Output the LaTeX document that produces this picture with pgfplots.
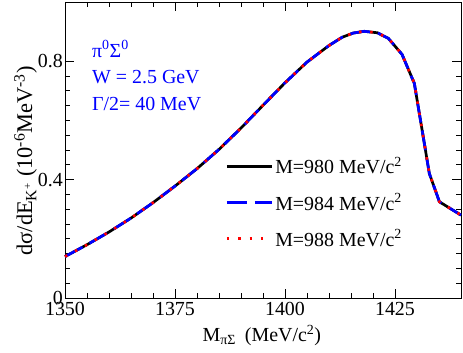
\documentclass[border=0pt]{standalone}
\usepackage{fontspec}
\setmainfont{Liberation Serif}
\usepackage{pgfplots}
\pgfplotsset{compat=1.18}
\begin{document}
\begin{tikzpicture}[font=\fontsize{20}{24}\selectfont]
\begin{axis}[
  scale only axis, width=396bp, height=296bp,
  xmin=1350, xmax=1440, ymin=0, ymax=1,
  xtick={1350,1375,1400,1425}, xticklabels={1350,1375,1400,1425},
  ytick={0,0.4,0.8}, yticklabels={0,0.4,0.8},
  minor x tick num=4, minor y tick num=7,
  tick align=inside, major tick length=9bp, minor tick length=5bp,
  axis line style={line width=0.8bp},
  every tick/.style={black, line width=0.8bp},
  xticklabel style={inner sep=4bp},
  yticklabel style={inner sep=2bp},
  xlabel={M\textsubscript{πΣ}\hspace{0.45em}(MeV/c\textsuperscript{2})},
  ylabel={dσ/dE\textsubscript{K\textsuperscript{+}} (10\textsuperscript{-6}MeV\textsuperscript{-3})},
  xlabel style={at={(axis description cs:0.497,-0.148)}, anchor=base},
  ylabel style={at={(axis description cs:-0.083,0.463)}, anchor=base, font=\fontsize{22.5}{27}\selectfont},
  legend cell align=left,
  legend style={draw=none, fill=none, at={(axis description cs:0.405,0.483)}, anchor=north west, row sep=14bp, inner sep=0pt},
  legend image code/.code={\draw[#1] (0bp,0bp) -- (45bp,0bp);},
  clip=false,
]
\addplot[black, line width=2.7bp] coordinates {
(1350,0.140) (1355,0.180) (1360,0.223) (1365,0.270) (1370,0.322) (1375,0.378)
(1380,0.437) (1385,0.502) (1390,0.574) (1395,0.651) (1400,0.727) (1405,0.797)
(1410,0.853) (1413,0.881) (1415.5,0.895) (1418,0.901) (1421,0.896) (1423.5,0.877)
(1426.6,0.823) (1429.4,0.725) (1432.8,0.421) (1435.1,0.325) (1440,0.280)
};
\addlegendentry{M=980 MeV/c\textsuperscript{2}}
\addplot[blue, line width=2.7bp, dash pattern=on 20bp off 8bp] coordinates {
(1350,0.140) (1355,0.180) (1360,0.223) (1365,0.270) (1370,0.322) (1375,0.378)
(1380,0.437) (1385,0.502) (1390,0.574) (1395,0.651) (1400,0.727) (1405,0.797)
(1410,0.853) (1413,0.881) (1415.5,0.895) (1418,0.901) (1421,0.896) (1423.5,0.877)
(1426.6,0.823) (1429.4,0.725) (1432.8,0.421) (1435.1,0.325) (1440,0.280)
};
\addlegendentry{M=984 MeV/c\textsuperscript{2}}
\addplot[red, line width=2.7bp, dash pattern=on 2.5bp off 8.8bp] coordinates {
(1350,0.140) (1355,0.180) (1360,0.223) (1365,0.270) (1370,0.322) (1375,0.378)
(1380,0.437) (1385,0.502) (1390,0.574) (1395,0.651) (1400,0.727) (1405,0.797)
(1410,0.853) (1413,0.881) (1415.5,0.895) (1418,0.901) (1421,0.896) (1423.5,0.877)
(1426.6,0.823) (1429.4,0.725) (1432.8,0.421) (1435.1,0.325) (1440,0.280)
};
\addlegendentry{M=988 MeV/c\textsuperscript{2}}
\node[blue, anchor=base west, inner sep=0pt] at (axis description cs:0.068,0.814) {π\textsuperscript{0}Σ\textsuperscript{0}};
\node[blue, anchor=base west, inner sep=0pt] at (axis description cs:0.068,0.726) {W = 2.5 GeV};
\node[blue, anchor=base west, inner sep=0pt] at (axis description cs:0.068,0.635) {Γ/2= 40 MeV};
\end{axis}
\pgfresetboundingbox
\path (current axis.south west) ++(-65bp,-55bp) rectangle ++(463bp,353bp);
\end{tikzpicture}
\end{document}
